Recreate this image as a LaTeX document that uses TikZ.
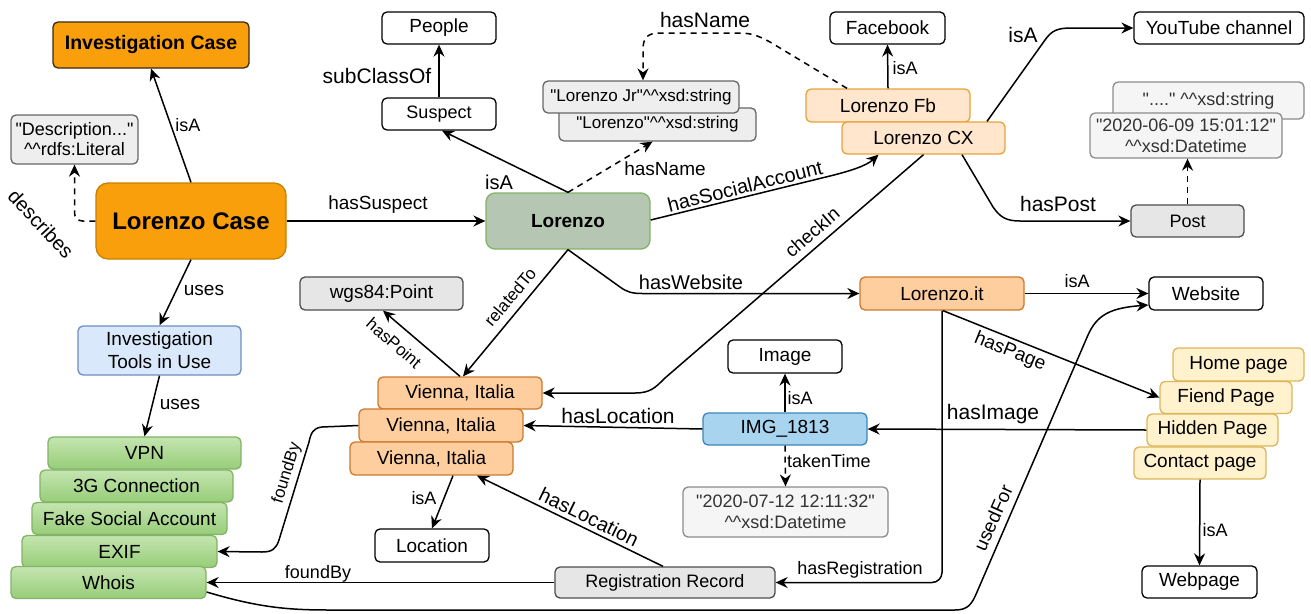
\documentclass[tikz,border=0pt]{standalone}
\usepackage{fontspec}
\setmainfont{Liberation Sans}[Ligatures=TeXOff]
\usetikzlibrary{arrows.meta}

\definecolor{cOrange}{HTML}{FA9F0C}
\definecolor{cOrangeD}{HTML}{C98000}
\definecolor{cInvD}{HTML}{3A2A10}
\definecolor{cPeach}{HTML}{FFE6CC}
\definecolor{cPeachD}{HTML}{E8A33D}
\definecolor{cApricot}{HTML}{FFCE9F}
\definecolor{cApricotD}{HTML}{CC7A2E}
\definecolor{cCream}{HTML}{FFF2CC}
\definecolor{cCreamD}{HTML}{DDB55A}
\definecolor{cSky}{HTML}{A8D4F0}
\definecolor{cSkyD}{HTML}{3B86B8}
\definecolor{cIce}{HTML}{DAE8FC}
\definecolor{cIceD}{HTML}{6C8EBF}
\definecolor{cSage}{HTML}{B5C6B2}
\definecolor{cSageD}{HTML}{82B366}
\definecolor{cLeafT}{HTML}{C4E5B0}
\definecolor{cLeafB}{HTML}{97CD78}
\definecolor{cLeafD}{HTML}{82B366}
\definecolor{cGray}{HTML}{EEEEEE}
\definecolor{cGrayD}{HTML}{666666}
\definecolor{cGray2}{HTML}{E6E6E6}
\definecolor{cGray2D}{HTML}{4D4D4D}
\definecolor{cLight}{HTML}{F5F5F5}
\definecolor{cLightD}{HTML}{8C8C8C}

% two carets of an RDF datatype tag
\newcommand\dcaret{\textasciicircum\textasciicircum}

\tikzset{
  f17/.style={font=\fontsize{17}{20}\selectfont},
  f18/.style={font=\fontsize{18}{21}\selectfont},
  f19/.style={font=\fontsize{19}{23}\selectfont},
  f20/.style={font=\fontsize{20}{23}\selectfont},
  f21/.style={font=\fontsize{21}{24}\selectfont},
  box/.style={draw, rounded corners=5pt, line width=1.3pt, inner sep=0pt,
    align=center, minimum height=32pt, f19},
  plain/.style={box, fill=white, draw=black},
  lit1/.style={box, fill=cGray, draw=cGrayD},
  lit2/.style={box, fill=cGray2, draw=cGray2D},
  lit3/.style={box, fill=cLight, draw=cLightD, text=black!80},
  account/.style={box, fill=cPeach, draw=cPeachD},
  place/.style={box, fill=cApricot, draw=cApricotD},
  page/.style={box, fill=cCream, draw=cCreamD},
  tool/.style={box, top color=cLeafT, bottom color=cLeafB, draw=cLeafD},
  lbl/.style={inner sep=0pt, f19},
  arr/.style={line width=1.5pt, -{Stealth[length=12pt,width=11pt,inset=4pt]}},
  darr/.style={arr, dash pattern=on 6pt off 5pt},
}

\begin{document}
\begin{tikzpicture}[x=1pt,y=-1pt]
\useasboundingbox (0,0) rectangle (1311,613);

% ---- case and tools ----
\node[box, fill=cOrange, draw=cInvD, minimum width=196pt, minimum height=46pt,
  font=\fontsize{19.5}{22}\selectfont\bfseries] (invcase) at (151,45) {Investigation Case};
\node[lit1, minimum width=127pt, minimum height=49pt, font=\fontsize{18}{20}\selectfont]
  (desc) at (74.5,139.5) {"Description..."\\\dcaret rdfs:Literal};
\node[box, fill=cOrange, draw=cOrangeD, rounded corners=12pt, minimum width=190pt,
  minimum height=76pt, font=\fontsize{24}{28}\selectfont\bfseries] (lcase) at (191,221) {Lorenzo Case};
\node[box, fill=cIce, draw=cIceD, minimum width=163pt, minimum height=49pt]
  (tools) at (159.5,350.5) {Investigation\\Tools in Use};

\node[tool, minimum width=193pt] (vpn) at (144.5,453) {VPN};
\node[tool, minimum width=193pt] (g3) at (136.5,486) {3G Connection};
\node[tool, minimum width=195pt] (fake) at (129.5,518.5) {Fake Social Account};
\node[tool, minimum width=195pt] (exif) at (119.5,551.5) {EXIF};
\node[tool, minimum width=195pt] (whois) at (108.5,582.5) {Whois};

% ---- suspect ----
\node[plain, minimum width=114pt] (people) at (439,28) {People};
\node[plain, minimum width=114pt, f18] (suspect) at (439,114) {Suspect};
\node[box, fill=cSage, draw=cSageD, rounded corners=9pt, minimum width=164pt,
  minimum height=56pt, font=\fontsize{19}{22}\selectfont\bfseries] (lorenzo) at (568,221) {Lorenzo};
\node[lit1, minimum width=197pt, minimum height=33pt, f17] (lstr) at (657.5,124.5)
  {"Lorenzo"\dcaret xsd:string};
\node[lit1, minimum width=196pt, f17] (ljr) at (641,97) {"Lorenzo Jr"\dcaret xsd:string};

% ---- social accounts ----
\node[plain, minimum width=115pt] (facebook) at (887.5,28) {Facebook};
\node[account, minimum width=164pt, minimum height=33pt] (fb) at (888,105.5) {Lorenzo Fb};
\node[account, minimum width=163pt] (lcx) at (923.5,138) {Lorenzo CX};
\node[plain, minimum width=170pt] (yt) at (1219,28) {YouTube channel};
\node[lit3, minimum width=191pt, minimum height=37pt, f18] (dots) at (1208.5,100.5)
  {"...." \dcaret xsd:string};
\node[lit3, minimum width=192pt, minimum height=45pt, font=\fontsize{18}{21}\selectfont]
  (dt1) at (1186,135.5) {"2020-06-09 15:01:12"\\\dcaret xsd:Datetime};
\node[lit2, minimum width=113pt, f18] (post) at (1187.5,221) {Post};

% ---- website ----
\node[place, minimum width=164pt, minimum height=33pt] (lit) at (942,293.5) {Lorenzo.it};
\node[plain, minimum width=114pt, minimum height=33pt] (website) at (1206,293.5) {Website};
\node[page, minimum width=131pt, minimum height=33pt] (home) at (1238.5,364.5) {Home page};
\node[page, minimum width=132pt] (fiend) at (1226,397.5) {Fiend Page};
\node[page, minimum width=131pt] (hidden) at (1212.5,430) {Hidden Page};
\node[page, minimum width=132pt] (contact) at (1200,463) {Contact page};
\node[plain, minimum width=115pt] (webpage) at (1199.5,582) {Webpage};

% ---- image ----
\node[plain, minimum width=114pt, minimum height=33pt] (image) at (785,356.5) {Image};
\node[box, fill=cSky, draw=cSkyD, minimum width=164pt] (img) at (785,429) {IMG\_1813};
\node[lit3, minimum width=205pt, minimum height=50pt, font=\fontsize{18}{21}\selectfont]
  (dt2) at (785.5,512) {"2020-07-12 12:11:32"\\\dcaret xsd:Datetime};

% ---- locations ----
\node[lit2, minimum width=163pt, minimum height=33pt] (wgs) at (381.5,293.5) {wgs84:Point};
\node[place, minimum width=164pt] (v1) at (460,393) {Vienna, Italia};
\node[place, minimum width=164pt, minimum height=33pt] (v2) at (441,425.5) {Vienna, Italia};
\node[place, minimum width=163pt, minimum height=33pt] (v3) at (431.5,458.5) {Vienna, Italia};
\node[plain, minimum width=114pt, minimum height=33pt] (location) at (432,545.5) {Location};
\node[lit2, minimum width=220pt, minimum height=31pt, f18] (rr) at (665,582.5) {Registration Record};

% ---- connectors ----
\draw[arr] (lcase.north) -- (invcase.south);
\draw[darr, rounded corners=8pt] (lcase.west) -| (desc.south);
\draw[arr] (lcase.south) -- (tools.north);
\draw[arr] (tools.south) -- (vpn.north);
\draw[arr] (suspect.north) -- (people.south);
\draw[arr] (lcase.east) -- (lorenzo.west);
\draw[arr] (lorenzo.north) -- ([xshift=3pt]suspect.south);
\draw[darr] (lorenzo.north) -- ([xshift=-5pt]lstr.south);
\draw[darr] ([xshift=-41pt]fb.north) -- (770,42) .. controls (755,34) and (750,33) .. (735,33)
  -- (660,33) .. controls (647,33) and (643,38) .. (643,50) -- ([xshift=2pt]ljr.north);
\draw[arr] (fb.north) -- (facebook.south);
\draw[arr] ([yshift=1pt]lorenzo.east) -- (830,176) .. controls (850,171) and (866,166)
  .. ([xshift=-45pt]lcx.south);
\draw[arr] (lcx.south) -- (665,378) .. controls (655,388) and (650,393) .. (635,393) -- (v1.east);
\draw[arr] ([xshift=63.5pt]lcx.north) -- (1045,40) .. controls (1052,30) and (1058,28)
  .. (1072,28) -- (yt.west);
\draw[arr] ([xshift=38.5pt]lcx.south) -- (993,207) .. controls (1000,217) and (1006,221)
  .. (1020,221) -- (post.west);
\draw[darr] (post.north) -- (post.north |- dt1.south);
\draw[arr] (lorenzo.south) -- (620,287) .. controls (627,292) and (632,293.5) .. (642,293.5) -- (lit.west);
\draw[arr] (lit.east) -- (website.west);
\draw[arr] ([xshift=1pt]lit.south) -- (fiend.west);
\draw[arr] (contact.south) -- (webpage.north);
\draw[arr] (hidden.west) -- (img.east);
\draw[arr] (img.north) -- (image.south);
\draw[darr] (img.south) -- (dt2.north);
\draw[arr] (img.west) -- (v2.east);
\draw[arr] (lorenzo.south) -- ([xshift=3pt]v1.north);
\draw[arr] (v1.north) -- ([xshift=1.5pt]wgs.south);
\draw[arr] ([xshift=21.5pt]v3.south) -- (location.north);
\draw[arr] ([xshift=-2pt]rr.north) -- ([xshift=45.5pt]v3.south);
\draw[arr] (rr.west) -- (whois.east);
\draw[arr, rounded corners=10pt] (lit.south) |- (rr.east);
\draw[arr] ([yshift=-9.5pt]whois.east) .. controls (260,608) and (290,610) .. (330,610)
  -- (955,610) .. controls (968,610) and (972,604) .. (977,592)
  -- (1088,335) .. controls (1097,315) and (1110,308) .. ([yshift=-11.5pt]website.west);
\draw[arr] (v2.west) -- (322,427) .. controls (313,428) and (311,433) .. (309,442)
  -- (279,540) .. controls (276,549) and (272,552) .. (262,552) -- (exif.east);

% ---- connector labels ----
\node[lbl, f18] (tIsA1) at (188,125) {isA};
\node[lbl, f20, rotate=-47] (tDescribes) at (41,224) {describes};
\node[lbl] (tUses1) at (204,290) {uses};
\node[lbl] (tUses2) at (180,404) {uses};
\node[lbl, f21] (tSub) at (377,76) {subClassOf};
\node[lbl] (tSuspect) at (378,205) {hasSuspect};
\node[lbl, f20] (tIsA2) at (499,182) {isA};
\node[lbl] (tName1) at (665,169) {hasName};
\node[lbl, f21] (tName2) at (705,20) {hasName};
\node[lbl, f18] (tIsA3) at (905,68) {isA};
\node[lbl, f20, rotate=14] (tSocial) at (745,186) {hasSocialAccount};
\node[lbl, rotate=41] (tCheck) at (812,232) {checkIn};
\node[lbl, f21] (tIsA4) at (1023,35) {isA};
\node[lbl, f21] (tPost) at (1058,204) {hasPost};
\node[lbl, f20] (tWebsite) at (691,282) {hasWebsite};
\node[lbl, f18] (tIsA5) at (1077,281) {isA};
\node[lbl, rotate=-22] (tPage) at (1010,352) {hasPage};
\node[lbl, f18] (tIsA6) at (1215,530) {isA};
\node[lbl, f21] (tImage) at (993,414) {hasImage};
\node[lbl, f18] (tIsA7) at (800,398) {isA};
\node[lbl, f18, anchor=west] (tTaken) at (787,461) {takenTime};
\node[lbl, f21] (tLoc1) at (618,416) {hasLocation};
\node[lbl, f17, rotate=50] (tRelated) at (510,297) {relatedTo};
\node[lbl, f17, rotate=-41] (tPoint) at (394,343) {hasPoint};
\node[lbl, f18] (tIsA8) at (424,498) {isA};
\node[lbl, f20, rotate=-26] (tLoc2) at (589,517) {hasLocation};
\node[lbl, f18] (tFound1) at (318,574) {foundBy};
\node[lbl, f18] (tReg) at (860,570) {hasRegistration};
\node[lbl, rotate=66] (tUsed) at (993,518) {usedFor};
\node[lbl, f17, rotate=73] (tFound2) at (287,473) {foundBy};
\end{tikzpicture}
\end{document}
